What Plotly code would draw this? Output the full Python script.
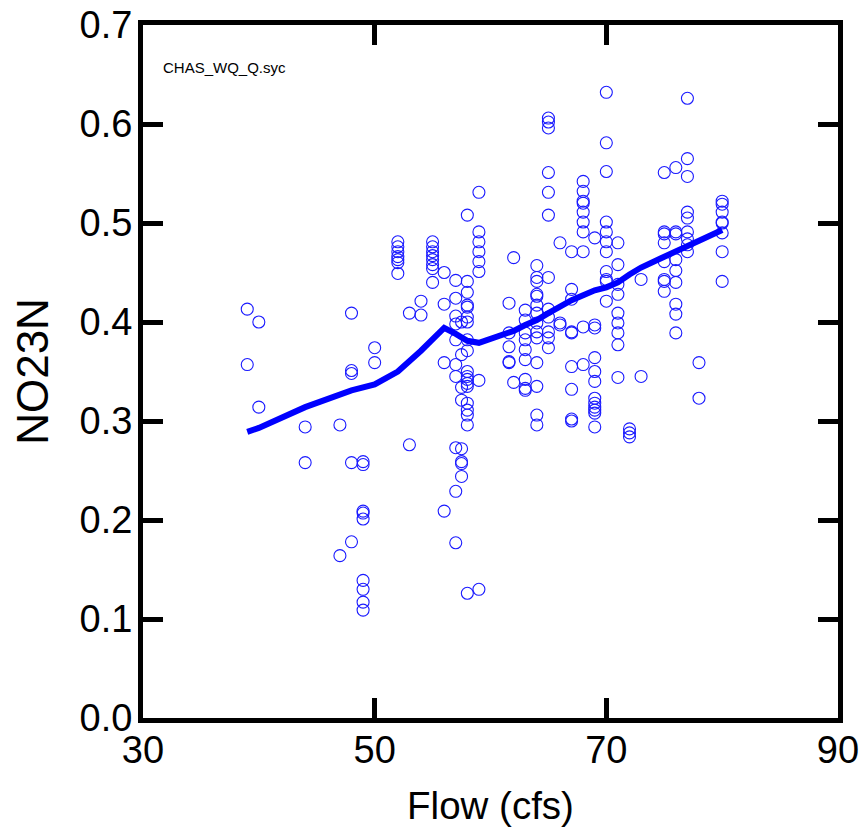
import plotly.graph_objects as go

# Scatter data: flow (cfs) and NO23N
flow_cfs = (
    [39, 39, 40, 40, 44, 44, 47, 47]
    + [48] * 5 + [49] * 9 + [50] * 2
    + [52] * 7 + [53] * 2 + [54] * 2 + [55] * 8 + [56] * 4
    + [57] * 10 + [57.5] * 8 + [58] * 19 + [59] * 8
    + [61.6] * 5 + [62] * 2 + [63] * 9 + [64] * 14 + [65] * 12
    + [66] * 3 + [67] * 9 + [68] * 10 + [69] * 12 + [70] * 11
    + [71] * 9 + [72] * 3 + [73] * 2 + [75] * 8 + [76] * 9
    + [77] * 9 + [78] * 2 + [80] * 8
)
no23n = [
    0.413, 0.357, 0.400, 0.314, 0.294, 0.258, 0.296, 0.164,
    0.409, 0.351, 0.348, 0.258, 0.178,
    0.259, 0.256, 0.209, 0.207, 0.201, 0.139, 0.130, 0.117, 0.109,
    0.374, 0.359,
    0.481, 0.476, 0.471, 0.466, 0.463, 0.460, 0.449,
    0.409, 0.276,
    0.421, 0.407,
    0.481, 0.476, 0.471, 0.467, 0.463, 0.458, 0.454, 0.440,
    0.450, 0.418, 0.359, 0.209,
    0.442, 0.424, 0.406, 0.398, 0.382, 0.357, 0.345, 0.273, 0.229, 0.177,
    0.400, 0.367, 0.334, 0.321, 0.272, 0.259, 0.257, 0.244,
    0.508, 0.441, 0.430, 0.417, 0.415, 0.405, 0.400, 0.382, 0.371, 0.350,
    0.345, 0.342, 0.338, 0.335, 0.318, 0.311, 0.306, 0.296, 0.126,
    0.531, 0.491, 0.481, 0.471, 0.461, 0.451, 0.341, 0.130,
    0.419, 0.389, 0.375, 0.360, 0.359,
    0.465, 0.339,
    0.412, 0.402, 0.389, 0.382, 0.372, 0.362, 0.342, 0.333, 0.331,
    0.457, 0.445, 0.441, 0.428, 0.426, 0.417, 0.409, 0.399, 0.390, 0.384,
    0.359, 0.335, 0.306, 0.296,
    0.606, 0.602, 0.596, 0.551, 0.531, 0.508, 0.445, 0.413, 0.405, 0.390,
    0.384, 0.374,
    0.480, 0.399, 0.397,
    0.471, 0.433, 0.423, 0.390, 0.389, 0.355, 0.332, 0.302, 0.300,
    0.542, 0.532, 0.522, 0.520, 0.511, 0.501, 0.491, 0.471, 0.395, 0.357,
    0.485, 0.397, 0.394, 0.364, 0.350, 0.340, 0.323, 0.318, 0.314, 0.311,
    0.308, 0.294,
    0.632, 0.581, 0.552, 0.501, 0.491, 0.481, 0.471, 0.451, 0.443, 0.441, 0.421,
    0.480, 0.458, 0.438, 0.428, 0.409, 0.399, 0.389, 0.377, 0.344,
    0.292, 0.288, 0.284,
    0.443, 0.345,
    0.551, 0.491, 0.489, 0.480, 0.461, 0.443, 0.441, 0.431,
    0.556, 0.491, 0.489, 0.463, 0.452, 0.440, 0.418, 0.408, 0.389,
    0.626, 0.565, 0.547, 0.511, 0.505, 0.491, 0.484, 0.478, 0.471,
    0.359, 0.323,
    0.522, 0.519, 0.511, 0.501, 0.500, 0.490, 0.471, 0.441,
]

# Smoothed (LOESS-like) curve
smooth_flow = [39, 40, 44, 47, 48, 50, 52, 54, 56, 57, 58, 59, 61, 62, 63,
               64, 65, 66, 67, 68, 69, 70, 71, 72, 73, 75, 76, 77, 78, 80]
smooth_no23n = [0.289, 0.293, 0.314, 0.327, 0.331, 0.337, 0.350, 0.371, 0.394,
                0.388, 0.381, 0.379, 0.386, 0.391, 0.397, 0.402, 0.409, 0.416,
                0.422, 0.427, 0.432, 0.435, 0.440, 0.448, 0.455, 0.466, 0.471,
                0.477, 0.482, 0.493]

x_ticks = [30, 50, 70, 90]
y_ticks = [0.0, 0.1, 0.2, 0.3, 0.4, 0.5, 0.6, 0.7]

FONT = "Liberation Sans, Arial, sans-serif"

fig = go.Figure()
fig.add_trace(go.Scatter(
    x=flow_cfs, y=no23n, mode="markers",
    marker=dict(symbol="circle-open", size=12, color="#1a1aff",
                line=dict(width=1.1, color="#1a1aff")),
    showlegend=False, hoverinfo="skip",
))
fig.add_trace(go.Scatter(
    x=smooth_flow, y=smooth_no23n, mode="lines",
    line=dict(color="#0000ff", width=6),
    showlegend=False, hoverinfo="skip",
))

axis_common = dict(
    showline=True, linecolor="black", linewidth=5, mirror="ticks",
    ticks="inside", ticklen=20, tickwidth=5, tickcolor="black",
    showgrid=False, zeroline=False, automargin=False,
    ticklabeloverflow="allow",
    tickfont=dict(family=FONT, size=38, color="black"),
)

fig.update_layout(
    width=864, height=831,
    margin=dict(l=143, r=26, t=25, b=113),
    paper_bgcolor="white", plot_bgcolor="white",
    xaxis=dict(range=[30, 90], tickvals=x_ticks, ticklabelstandoff=-6,
               title=dict(text="Flow (cfs)", font=dict(family=FONT, size=38.5, color="black"),
                          standoff=24),
               **axis_common),
    yaxis=dict(range=[0, 0.7], tickvals=y_ticks, tickformat=".1f", ticklabelstandoff=-2,
               title=dict(text="NO23N", font=dict(family=FONT, size=44, color="black"),
                          standoff=19),
               **axis_common),
    annotations=[dict(
        text="CHAS_WQ_Q.syc", xref="paper", yref="paper", x=0.026, y=0.938,
        xanchor="left", yanchor="middle", showarrow=False,
        font=dict(family=FONT, size=15, color="black"),
    )],
)

fig.write_html("out.html",
               config={"displayModeBar": False},
               post_script="document.body.style.margin='0';document.body.style.overflow='hidden';")
